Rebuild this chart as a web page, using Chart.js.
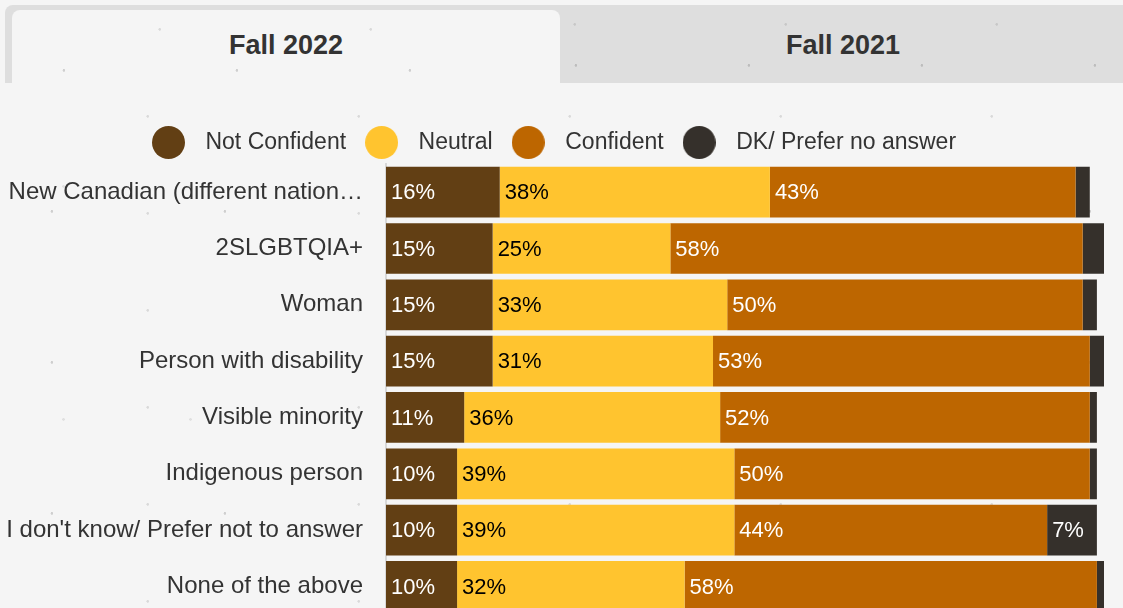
<!DOCTYPE html>
<html>
<head>
<meta charset="utf-8">
<script src="https://cdn.jsdelivr.net/npm/chart.js@4"></script>
<style>
  html, body { margin: 0; padding: 0; }
  body {
    width: 1123px; height: 608px; overflow: hidden; position: relative;
    background-color: #f5f5f5;
    font-family: "Liberation Sans", Arial, sans-serif;
  }
  .paper {
    background-image:
      radial-gradient(circle at 30% 40%, rgba(90,90,90,0.25) 0 1px, transparent 1.6px),
      radial-gradient(circle at 70% 20%, rgba(120,120,120,0.22) 0 1px, transparent 1.6px),
      radial-gradient(circle at 50% 80%, rgba(140,140,140,0.2) 0 1px, transparent 1.6px);
    background-size: 173px 151px, 211px 97px, 127px 233px;
  }
  .tabs {
    position: absolute; left: 5px; top: 5px; width: 1125px; height: 78px;
    background-color: #dedede; border-top-left-radius: 8px;
  }
  .tab {
    position: absolute; top: 5px; height: 73px; line-height: 70px;
    text-align: center; font-weight: bold; font-size: 27px; color: #333;
  }
  .tab.active { left: 7px; width: 548px; background-color: #f5f5f5; border-radius: 8px 8px 0 0; }
  .tab.other { left: 555px; width: 566px; }
  .chart-box { position: absolute; left: -5px; top: 121px; width: 1109px; height: 531px; }
</style>
</head>
<body class="paper">
<div class="tabs paper">
  <div class="tab active paper">Fall 2022</div>
  <div class="tab other">Fall 2021</div>
</div>
<div class="chart-box"><canvas id="confidence"></canvas></div>
<script>
const categories = [
  "New Canadian (different nation…",
  "2SLGBTQIA+",
  "Woman",
  "Person with disability",
  "Visible minority",
  "Indigenous person",
  "I don't know/ Prefer not to answer",
  "None of the above"
];
const notConfident = [16, 15, 15, 15, 11, 10, 10, 10];
const neutral = [38, 25, 33, 31, 36, 39, 39, 32];
const confident = [43, 58, 50, 53, 52, 50, 44, 58];
const dkNoAnswer = [2, 3, 2, 2, 1, 1, 7, 1];

const seriesNames = ["Not Confident", "Neutral", "Confident", "DK/ Prefer no answer"];
const seriesColors = ["#623f14", "#ffc42f", "#bd6600", "#35302b"];
const labelColors = ["#ffffff", "#000000", "#ffffff", "#ffffff"];

const FONT = "'Liberation Sans', Arial, sans-serif";

// legend dots drawn as little canvases so the gap to the text can be wider
function dot(color) {
  const c = document.createElement('canvas');
  c.width = 33; c.height = 33;
  const g = c.getContext('2d');
  g.fillStyle = color;
  g.beginPath();
  g.arc(16.5, 16.5, 16.5, 0, Math.PI * 2);
  g.fill();
  return c;
}
const dots = seriesColors.map(dot);

// percent labels at the start of each segment
const barLabels = {
  id: 'barLabels',
  afterDatasetsDraw(chart) {
    const ctx = chart.ctx;
    ctx.save();
    ctx.font = "22px " + FONT;
    ctx.textAlign = 'left';
    ctx.textBaseline = 'middle';
    chart.data.datasets.forEach((ds, i) => {
      chart.getDatasetMeta(i).data.forEach((bar, j) => {
        const v = ds.data[j];
        if (v < 5) return;
        ctx.fillStyle = labelColors[i];
        ctx.fillText(v + '%', Math.min(bar.x, bar.base) + 5, bar.y + 1);
      });
    });
    ctx.restore();
  }
};

const values = [notConfident, neutral, confident, dkNoAnswer];

new Chart(document.getElementById('confidence'), {
  type: 'bar',
  data: {
    labels: categories,
    datasets: values.map((d, i) => ({
      label: seriesNames[i],
      data: d,
      backgroundColor: seriesColors[i],
      borderWidth: 0,
      barPercentage: 0.9,
      categoryPercentage: 1.0
    }))
  },
  options: {
    indexAxis: 'y',
    responsive: true,
    maintainAspectRatio: false,
    animation: false,
    devicePixelRatio: 1,
    layout: { padding: 0 },
    scales: {
      x: { stacked: true, display: false, min: 0, max: 101 },
      y: {
        stacked: true,
        grid: { display: false, drawTicks: false },
        border: { display: true, color: '#d8d8d8', width: 2 },
        ticks: { color: '#333', padding: 23, font: { family: FONT, size: 24 } },
        afterFit(scale) { scale.width = 391; }
      }
    },
    plugins: {
      tooltip: { enabled: false },
      legend: {
        position: 'top',
        labels: {
          usePointStyle: true,
          pointStyleWidth: 51,
          padding: 10,
          color: '#333',
          font: { family: FONT, size: 23 },
          generateLabels(chart) {
            const items = Chart.defaults.plugins.legend.labels.generateLabels(chart);
            items.forEach((it, i) => { it.pointStyle = dots[i]; });
            return items;
          }
        }
      }
    }
  },
  plugins: [barLabels]
});
</script>
</body>
</html>
